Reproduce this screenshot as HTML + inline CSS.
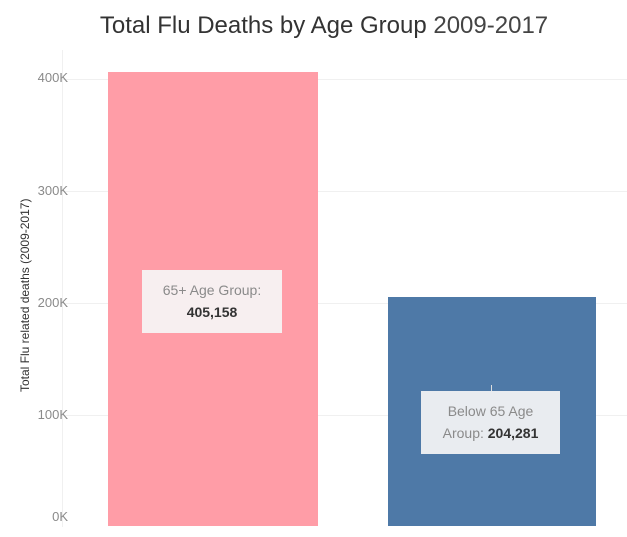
<!DOCTYPE html>
<html><head><style>
body{margin:0;width:627px;height:537px;background:#fff;position:relative;overflow:hidden;font-family:"Liberation Sans",sans-serif}
.a{position:absolute}
.g{position:absolute;left:62px;width:565px;height:1px;background:#f0f0f0}
.t{position:absolute;left:18px;width:50px;text-align:right;font-size:13px;color:#8a8a8a}
.box{position:absolute;text-align:center;font-size:14px;line-height:22px;color:#8a8a8a}
.box b{color:#333}
</style></head><body>
<div class="a" style="left:0;width:648px;top:12px;text-align:center;font-size:24px;color:#333">Total Flu Deaths by Age Group <span style="color:#444;font-weight:normal">2009-2017</span></div>
<div class="a" style="left:62px;top:50px;width:1px;height:477px;background:#f0f0f0"></div>
<div class="g" style="top:79px"></div>
<div class="g" style="top:191px"></div>
<div class="g" style="top:303px"></div>
<div class="g" style="top:415px"></div>
<div class="t" style="top:70px">400K</div>
<div class="t" style="top:183px">300K</div>
<div class="t" style="top:295px">200K</div>
<div class="t" style="top:407px">100K</div>
<div class="t" style="top:509px">0K</div>
<div class="a" style="left:-70px;top:290px;width:190px;text-align:center;transform:rotate(-90deg);font-size:12px;color:#333;white-space:nowrap">Total Flu related deaths (2009-2017)</div>
<div class="a" style="left:108px;top:72px;width:210px;height:454px;background:#ff9da7"></div>
<div class="a" style="left:388px;top:297px;width:208px;height:229px;background:#4e79a7"></div>
<div class="box" style="left:142px;top:270px;width:140px;height:63px;background:#f7eff0;padding-top:9px;box-sizing:border-box">65+ Age Group:<br><b>405,158</b></div>
<div class="a" style="left:491px;top:385px;width:1px;height:6px;background:#ddd"></div>
<div class="box" style="left:421px;top:391px;width:139px;height:63px;background:#e9ecf0;padding-top:9px;box-sizing:border-box">Below 65 Age<br>Aroup: <b>204,281</b></div>
</body></html>
